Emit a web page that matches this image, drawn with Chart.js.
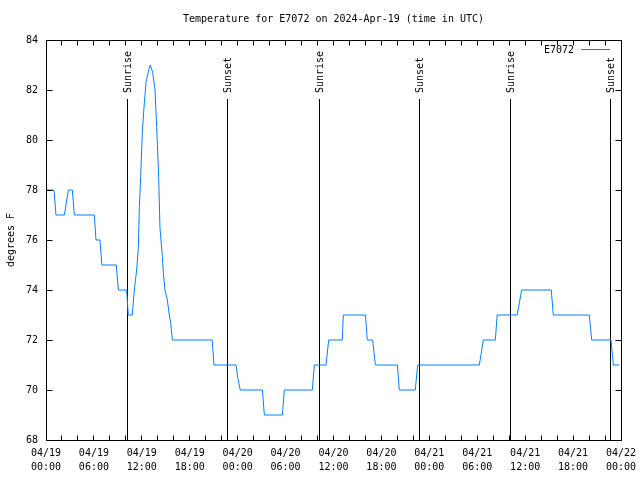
<!DOCTYPE html>
<html>
<head>
<meta charset="utf-8">
<script src="https://cdn.jsdelivr.net/npm/chart.js@4/dist/chart.umd.min.js"></script>
<style>
html,body{margin:0;padding:0;background:#fff;}
canvas{display:block;}
</style>
</head>
<body>
<canvas id="c" width="640" height="480"></canvas>
<script>
// Hours since 2024-04-19 00:00 UTC
const times = [0,1.0,1.25,2.3,2.8,3.3,3.55,6.05,6.26,6.76,7.0,8.8,9.06,10.1,10.3,10.8,11.06,
  11.35,11.56,11.69,11.85,12.06,12.27,12.52,12.86,13.06,13.36,13.65,13.86,14.11,14.27,14.53,14.69,14.9,15.19,15.44,15.61,15.82,
  20.8,21.04,23.8,24.0,24.33,27.1,27.34,29.6,29.84,33.35,33.6,35.06,35.4,37.1,37.23,40.0,40.23,40.9,41.24,44.0,44.24,46.24,46.54,
  54.26,54.76,56.26,56.5,59.0,59.56,63.27,63.52,68.03,68.33,70.75,71.04,71.8];
const temps = [78,78,77,77,78,78,77,77,76,76,75,75,74,74,73,73,74,
  74.8,75.7,77.3,78.5,80.3,81.3,82.3,82.8,83.0,82.7,82.0,80.5,78.5,76.5,75.5,74.7,74,73.6,73,72.7,72,
  72,71,71,70.5,70,70,69,69,70,70,71,71,72,72,73,73,72,72,71,71,70,70,71,
  71,72,72,73,73,74,74,73,73,72,72,71,71];
const sunTimes = [10.18,22.7,34.19,46.75,58.1,70.67];
const sunLabels = ["Sunrise","Sunset","Sunrise","Sunset","Sunrise","Sunset"];
const xTickDates = ["04/19","04/19","04/19","04/19","04/20","04/20","04/20","04/20","04/21","04/21","04/21","04/21","04/22"];
const xTickTimes = ["00:00","06:00","12:00","18:00","00:00","06:00","12:00","18:00","00:00","06:00","12:00","18:00","00:00"];
const seriesName = "E7072";
const chartTitle = "Temperature for E7072 on 2024-Apr-19 (time in UTC)";
const yTitle = "degrees F";

const FONT = "'DejaVu Sans Mono', 'Liberation Mono', monospace";
const LINE = 'rgb(0,128,255)';

const deco = {
  id: 'deco',
  beforeDatasetsDraw(chart) {
    const ctx = chart.ctx, a = chart.chartArea, xs = chart.scales.x;
    ctx.save();
    ctx.strokeStyle = '#000';
    ctx.lineWidth = 1;
    ctx.fillStyle = '#000';
    ctx.font = '10px ' + FONT;
    sunTimes.forEach((t, i) => {
      const x = Math.round(xs.getPixelForValue(t)) + 0.5;
      ctx.beginPath();
      ctx.moveTo(x, 99);
      ctx.lineTo(x, a.bottom);
      ctx.stroke();
      ctx.save();
      ctx.translate(x + 1, 93);
      ctx.rotate(-Math.PI / 2);
      ctx.textAlign = 'left';
      ctx.textBaseline = 'middle';
      ctx.fillText(sunLabels[i], 0, 0);
      ctx.restore();
    });
    ctx.restore();
  },
  afterDatasetsDraw(chart) {
    const ctx = chart.ctx, a = chart.chartArea, xs = chart.scales.x, ys = chart.scales.y;
    ctx.save();
    ctx.strokeStyle = '#000';
    ctx.lineWidth = 1;
    const L = Math.floor(a.left) + 0.5, R = Math.floor(a.right) + 0.5;
    const T = Math.floor(a.top) + 0.5, B = Math.floor(a.bottom) + 0.5;
    ctx.beginPath();
    ctx.rect(L, T, R - L, B - T);
    ctx.stroke();
    ctx.beginPath();
    for (let v = 68; v <= 84; v += 2) {
      const y = Math.floor(ys.getPixelForValue(v)) + 0.5;
      ctx.moveTo(L, y); ctx.lineTo(L + 6, y);
      ctx.moveTo(R, y); ctx.lineTo(R - 6, y);
    }
    for (let h = 0; h <= 72; h += 2) {
      const x = Math.floor(xs.getPixelForValue(h)) + 0.5;
      ctx.moveTo(x, B); ctx.lineTo(x, B - 5);
      ctx.moveTo(x, T); ctx.lineTo(x, T + 5);
    }
    ctx.stroke();
    ctx.fillStyle = '#000';
    ctx.font = '10px ' + FONT;
    ctx.textAlign = 'center';
    ctx.textBaseline = 'middle';
    ctx.fillText(chartTitle, (a.left + a.right) / 2, 19.5);
    ctx.textAlign = 'right';
    ctx.fillText(seriesName, 574, 50);
    ctx.strokeStyle = LINE;
    ctx.beginPath();
    ctx.moveTo(581, 49.5); ctx.lineTo(610, 49.5);
    ctx.stroke();
    ctx.restore();
  }
};

new Chart(document.getElementById('c'), {
  type: 'scatter',
  data: {
    datasets: [{
      label: seriesName,
      data: times.map((t, i) => ({ x: t, y: temps[i] })),
      showLine: true,
      borderColor: LINE,
      borderWidth: 1,
      pointRadius: 0,
      tension: 0,
      fill: false
    }]
  },
  options: {
    responsive: false,
    animation: false,
    devicePixelRatio: 1,
    layout: { padding: { top: 40, right: 19, left: 0, bottom: 0 } },
    plugins: { legend: { display: false }, title: { display: false }, tooltip: { enabled: false } },
    scales: {
      x: {
        type: 'linear', min: 0, max: 72,
        grid: { display: false, drawTicks: false },
        border: { display: false },
        afterFit(s) { s.height = 40; s.paddingLeft = 0; s.paddingRight = 0; },
        afterBuildTicks(s) { s.ticks = xTickDates.map((d, i) => ({ value: i * 6 })); },
        ticks: {
          autoSkip: false, maxRotation: 0, minRotation: 0, padding: 6,
          color: '#000',
          font: { family: FONT, size: 10, lineHeight: 1.4 },
          callback: (v) => { const i = Math.round(v / 6); return [xTickDates[i], xTickTimes[i]]; }
        }
      },
      y: {
        min: 68, max: 84,
        grid: { display: false, drawTicks: false },
        border: { display: false },
        afterFit(s) { s.width = 46; s.paddingTop = 0; s.paddingBottom = 0; },
        ticks: { stepSize: 2, padding: 8, color: '#000', font: { family: FONT, size: 10 } },
        title: { display: true, text: yTitle, color: '#000', padding: { top: 5, bottom: 0 }, font: { family: FONT, size: 10 } }
      }
    }
  },
  plugins: [deco]
});
</script>
</body>
</html>
